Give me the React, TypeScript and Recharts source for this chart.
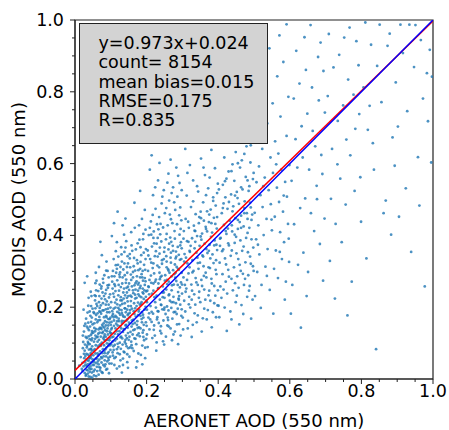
import React from "react";
import {
  ScatterChart,
  Scatter,
  XAxis,
  YAxis,
  ReferenceArea,
  Label,
} from "recharts";

// AERONET (x) vs MODIS (y) AOD at 550 nm
const bandA: [number, number][] = [
  [0.031,0.012],[0.042,0.027],[0.024,0.035],[0.038,0.051],[0.047,0.018],[0.029,0.064],[0.044,0.072],[0.035,0.041],[0.021,0.022],[0.049,0.055],
  [0.033,0.088],[0.041,0.097],[0.027,0.079],[0.046,0.108],[0.038,0.119],[0.023,0.103],[0.048,0.133],[0.036,0.141],[0.043,0.006],[0.028,0.047],
  [0.039,0.031],[0.045,0.083],[0.032,0.026],[0.026,0.058],[0.04,0.064],[0.049,0.039],[0.034,0.093],[0.044,0.122],[0.037,0.157],[0.047,0.171],
  [0.025,0.132],[0.041,0.188],[0.03,0.009],[0.046,0.047],[0.036,0.068],[0.022,0.086],[0.043,0.035],[0.048,0.091],[0.033,0.114],[0.039,0.082],
  [0.027,0.017],[0.042,0.146],[0.035,0.024],[0.049,0.152],[0.031,0.168],[0.045,0.203],[0.038,0.226],[0.044,0.061],[0.029,0.039],[0.047,0.127],
  [0.019,0.028],[0.016,0.061],[0.034,0.052],[0.041,0.111],[0.026,0.148],[0.048,0.004],[0.037,0.099],[0.043,0.176],[0.032,0.07],[0.046,0.028],
  [0.024,0.193],[0.039,0.136],[0.021,0.045],[0.035,0.185],[0.044,0.243],[0.03,0.117],[0.049,0.196],[0.027,0.268],[0.041,0.043],[0.036,0.015],
  [0.012,0.037],[0.045,0.067],[0.033,0.146],[0.047,0.079],[0.038,0.007],[0.028,0.096],[0.042,0.058],[0.046,0.231],[0.034,0.286],[0.025,0.07],
];

const bandB: [number, number][] = [
  [0.052,0.021],[0.061,0.034],[0.074,0.046],[0.058,0.057],[0.067,0.068],[0.083,0.052],[0.091,0.071],[0.055,0.083],[0.072,0.092],[0.088,0.088],
  [0.063,0.104],[0.079,0.113],[0.095,0.098],[0.057,0.121],[0.069,0.129],[0.084,0.136],[0.092,0.124],[0.054,0.142],[0.076,0.151],[0.089,0.158],
  [0.065,0.163],[0.081,0.172],[0.097,0.167],[0.059,0.178],[0.071,0.187],[0.086,0.194],[0.062,0.203],[0.078,0.211],[0.094,0.207],[0.056,0.219],
  [0.068,0.231],[0.085,0.238],[0.073,0.252],[0.091,0.261],[0.06,0.274],[0.082,0.289],[0.066,0.012],[0.087,0.026],[0.053,0.039],[0.077,0.017],
  [0.096,0.043],[0.064,0.049],[0.08,0.063],[0.093,0.059],[0.051,0.066],[0.07,0.077],[0.099,0.081],[0.058,0.094],[0.075,0.101],[0.09,0.109],
  [0.061,0.116],[0.083,0.124],[0.097,0.132],[0.066,0.138],[0.078,0.146],[0.054,0.155],[0.093,0.149],[0.07,0.164],[0.087,0.176],[0.063,0.183],
  [0.08,0.191],[0.096,0.186],[0.057,0.197],[0.074,0.224],[0.089,0.216],[0.065,0.245],[0.098,0.236],[0.079,0.268],[0.058,0.296],[0.094,0.283],
  [0.071,0.031],[0.085,0.041],[0.059,0.008],[0.095,0.016],[0.068,0.054],[0.082,0.078],[0.053,0.104],[0.076,0.128],[0.091,0.141],[0.062,0.158],
  [0.084,0.161],[0.099,0.171],[0.069,0.198],[0.086,0.207],[0.055,0.233],[0.077,0.241],[0.092,0.254],[0.067,0.312],[0.088,0.327],[0.075,0.345],
  [0.052,0.052],[0.063,0.071],[0.081,0.094],[0.097,0.114],[0.072,0.118],[0.056,0.133],[0.086,0.118],[0.064,0.089],[0.078,0.083],[0.093,0.092],
  [0.061,0.057],[0.073,0.061],[0.087,0.063],[0.098,0.062],[0.055,0.026],[0.07,0.024],[0.083,0.035],[0.09,0.049],[0.066,0.041],[0.079,0.039],
  [0.058,0.166],[0.068,0.173],[0.08,0.155],[0.09,0.186],[0.099,0.199],[0.06,0.209],[0.072,0.205],[0.084,0.222],[0.095,0.227],[0.069,0.263],
  [0.054,0.183],[0.074,0.139],[0.089,0.099],[0.065,0.126],[0.082,0.143],[0.096,0.157],[0.059,0.247],[0.078,0.279],[0.091,0.301],[0.071,0.382],
  [0.062,0.022],[0.076,0.072],[0.094,0.075],[0.085,0.107],[0.067,0.109],[0.053,0.079],[0.099,0.128],[0.073,0.182],[0.087,0.248],[0.057,0.267],
];

const bandC: [number, number][] = [
  [0.102,0.043],[0.114,0.061],[0.127,0.052],[0.138,0.074],[0.146,0.069],[0.108,0.081],[0.121,0.089],[0.133,0.096],[0.144,0.091],[0.105,0.104],
  [0.117,0.112],[0.129,0.118],[0.141,0.109],[0.111,0.126],[0.124,0.133],[0.136,0.139],[0.148,0.128],[0.103,0.142],[0.119,0.149],[0.131,0.156],
  [0.143,0.151],[0.109,0.163],[0.122,0.168],[0.135,0.174],[0.147,0.167],[0.106,0.181],[0.118,0.187],[0.13,0.192],[0.142,0.186],[0.113,0.199],
  [0.126,0.205],[0.139,0.211],[0.101,0.214],[0.149,0.203],[0.116,0.221],[0.128,0.228],[0.14,0.233],[0.107,0.238],[0.123,0.246],[0.137,0.252],
  [0.145,0.241],[0.112,0.259],[0.132,0.266],[0.104,0.271],[0.125,0.284],[0.143,0.277],[0.115,0.296],[0.135,0.305],[0.12,0.318],[0.148,0.322],
  [0.108,0.334],[0.13,0.347],[0.141,0.366],[0.117,0.381],[0.137,0.402],[0.124,0.035],[0.146,0.047],[0.11,0.058],[0.134,0.039],[0.119,0.072],
  [0.101,0.097],[0.128,0.084],[0.142,0.121],[0.113,0.141],[0.137,0.161],[0.104,0.176],[0.126,0.179],[0.149,0.181],[0.118,0.208],[0.131,0.219],
  [0.145,0.226],[0.109,0.229],[0.122,0.262],[0.139,0.289],[0.106,0.301],[0.127,0.312],[0.147,0.342],[0.114,0.356],[0.133,0.428],[0.103,0.398],
  [0.111,0.095],[0.125,0.101],[0.139,0.103],[0.107,0.118],[0.12,0.124],[0.134,0.131],[0.147,0.143],[0.115,0.154],[0.129,0.141],[0.144,0.163],
  [0.102,0.159],[0.116,0.172],[0.131,0.184],[0.14,0.197],[0.124,0.193],[0.108,0.196],[0.121,0.233],[0.135,0.241],[0.148,0.257],[0.113,0.245],
  [0.128,0.256],[0.142,0.268],[0.105,0.252],[0.118,0.275],[0.133,0.283],[0.146,0.296],[0.11,0.286],[0.126,0.297],[0.138,0.322],[0.121,0.341],
  [0.143,0.384],[0.136,0.076],[0.117,0.029],[0.149,0.086],[0.106,0.065],[0.132,0.113],[0.145,0.114],[0.123,0.161],[0.112,0.213],[0.101,0.127],
  [0.139,0.173],[0.127,0.219],[0.147,0.216],[0.114,0.317],[0.129,0.367],[0.109,0.434],[0.141,0.447],[0.119,0.466],[0.131,0.018],[0.148,0.031],
];

const bandD: [number, number][] = [
  [0.152,0.062],[0.164,0.078],[0.177,0.071],[0.188,0.093],[0.196,0.087],[0.157,0.104],[0.169,0.112],[0.181,0.119],[0.193,0.108],[0.155,0.131],
  [0.167,0.138],[0.179,0.144],[0.191,0.136],[0.161,0.153],[0.174,0.161],[0.186,0.167],[0.198,0.158],[0.153,0.172],[0.166,0.181],[0.178,0.188],
  [0.19,0.179],[0.159,0.196],[0.172,0.203],[0.184,0.209],[0.197,0.201],[0.156,0.217],[0.168,0.224],[0.18,0.231],[0.192,0.223],[0.163,0.239],
  [0.176,0.246],[0.189,0.252],[0.151,0.248],[0.199,0.244],[0.166,0.261],[0.178,0.268],[0.19,0.274],[0.157,0.276],[0.173,0.286],[0.186,0.292],
  [0.195,0.281],[0.162,0.298],[0.182,0.307],[0.154,0.311],[0.175,0.322],[0.193,0.318],[0.165,0.337],[0.185,0.345],[0.17,0.361],[0.198,0.362],
  [0.158,0.372],[0.18,0.388],[0.191,0.404],[0.167,0.421],[0.187,0.446],[0.174,0.049],[0.196,0.058],[0.16,0.086],[0.184,0.067],[0.171,0.097],
  [0.152,0.118],[0.178,0.127],[0.192,0.151],[0.163,0.165],[0.187,0.186],[0.154,0.192],[0.176,0.213],[0.199,0.218],[0.168,0.235],[0.181,0.253],
  [0.195,0.262],[0.159,0.258],[0.172,0.272],[0.189,0.301],[0.156,0.291],[0.177,0.303],[0.197,0.334],[0.164,0.314],[0.183,0.367],[0.153,0.348],
  [0.161,0.124],[0.175,0.142],[0.189,0.129],[0.158,0.146],[0.17,0.174],[0.183,0.176],[0.194,0.193],[0.165,0.211],[0.179,0.194],[0.191,0.238],
  [0.155,0.232],[0.169,0.249],[0.185,0.228],[0.197,0.272],[0.162,0.283],[0.176,0.263],[0.188,0.283],[0.151,0.266],[0.173,0.331],[0.192,0.352],
  [0.157,0.409],[0.179,0.428],[0.195,0.471],[0.166,0.491],[0.182,0.524],[0.171,0.032],[0.188,0.041],[0.199,0.112],[0.154,0.088],[0.167,0.156],
];

const bandE: [number, number][] = [
  [0.203,0.089],[0.216,0.114],[0.228,0.102],[0.241,0.127],[0.254,0.118],[0.267,0.141],[0.279,0.132],[0.291,0.153],[0.208,0.138],[0.221,0.149],
  [0.234,0.156],[0.247,0.163],[0.259,0.171],[0.272,0.168],[0.284,0.181],[0.297,0.176],[0.205,0.171],[0.218,0.182],[0.231,0.189],[0.244,0.194],
  [0.257,0.202],[0.269,0.198],[0.282,0.211],[0.294,0.207],[0.211,0.203],[0.224,0.214],[0.237,0.221],[0.25,0.226],[0.262,0.233],[0.275,0.229],
  [0.288,0.242],[0.299,0.238],[0.207,0.236],[0.219,0.246],[0.232,0.252],[0.245,0.258],[0.258,0.264],[0.271,0.261],[0.283,0.273],[0.296,0.269],
  [0.213,0.268],[0.226,0.277],[0.239,0.284],[0.252,0.289],[0.264,0.296],[0.277,0.292],[0.29,0.304],[0.204,0.301],[0.217,0.309],[0.23,0.316],
  [0.243,0.321],[0.256,0.327],[0.268,0.324],[0.281,0.336],[0.293,0.332],[0.21,0.334],[0.223,0.342],[0.236,0.349],[0.249,0.354],[0.261,0.361],
  [0.274,0.357],[0.287,0.368],[0.298,0.364],[0.215,0.369],[0.228,0.377],[0.241,0.383],[0.254,0.389],[0.266,0.394],[0.279,0.391],[0.292,0.402],
  [0.206,0.401],[0.22,0.411],[0.233,0.417],[0.246,0.422],[0.259,0.428],[0.272,0.434],[0.285,0.431],[0.297,0.442],[0.212,0.439],[0.235,0.451],
  [0.251,0.462],[0.265,0.458],[0.28,0.471],[0.294,0.478],[0.225,0.474],[0.242,0.489],[0.263,0.497],[0.286,0.508],[0.218,0.512],[0.248,0.526],
  [0.274,0.534],[0.292,0.546],[0.232,0.553],[0.261,0.572],[0.283,0.589],[0.209,0.583],[0.227,0.079],[0.249,0.096],[0.271,0.108],[0.295,0.121],
  [0.238,0.134],[0.262,0.146],[0.285,0.152],[0.214,0.159],[0.229,0.166],[0.253,0.181],[0.276,0.186],[0.298,0.194],[0.201,0.193],[0.24,0.207],
  [0.265,0.218],[0.289,0.224],[0.222,0.228],[0.248,0.241],[0.27,0.247],[0.293,0.255],[0.205,0.258],[0.233,0.266],[0.257,0.276],[0.28,0.282],
  [0.212,0.288],[0.236,0.296],[0.26,0.306],[0.284,0.312],[0.219,0.322],[0.243,0.331],[0.267,0.338],[0.29,0.346],[0.226,0.356],[0.25,0.366],
  [0.273,0.371],[0.296,0.381],[0.203,0.358],[0.231,0.393],[0.256,0.404],[0.278,0.412],[0.209,0.421],[0.239,0.432],[0.268,0.445],[0.291,0.456],
  [0.217,0.457],[0.255,0.476],[0.277,0.492],[0.244,0.508],[0.27,0.518],[0.298,0.526],[0.224,0.534],[0.258,0.547],[0.288,0.566],[0.236,0.602],
  [0.214,0.623],[0.267,0.611],[0.246,0.105],[0.288,0.097],[0.223,0.121],[0.275,0.124],[0.258,0.149],[0.201,0.124],[0.233,0.188],[0.287,0.196],
  [0.261,0.191],[0.245,0.228],[0.299,0.263],[0.274,0.303],[0.255,0.342],[0.282,0.355],[0.237,0.366],[0.219,0.393],[0.263,0.377],[0.295,0.418],
];

const bandF: [number, number][] = [
  [0.302,0.138],[0.316,0.162],[0.329,0.151],[0.343,0.177],[0.357,0.169],[0.371,0.192],[0.385,0.186],[0.398,0.205],[0.308,0.188],[0.322,0.199],
  [0.336,0.207],[0.35,0.214],[0.364,0.221],[0.378,0.218],[0.392,0.232],[0.305,0.218],[0.319,0.229],[0.333,0.236],[0.347,0.243],[0.361,0.249],
  [0.375,0.246],[0.389,0.259],[0.311,0.252],[0.325,0.263],[0.339,0.269],[0.353,0.276],[0.367,0.283],[0.381,0.279],[0.395,0.292],[0.303,0.283],
  [0.317,0.294],[0.331,0.301],[0.345,0.307],[0.359,0.314],[0.373,0.311],[0.387,0.323],[0.314,0.322],[0.328,0.331],[0.342,0.338],[0.356,0.344],
  [0.37,0.351],[0.384,0.347],[0.397,0.359],[0.306,0.348],[0.32,0.357],[0.334,0.364],[0.348,0.371],[0.362,0.377],[0.376,0.374],[0.39,0.386],
  [0.313,0.384],[0.327,0.392],[0.341,0.398],[0.355,0.405],[0.369,0.411],[0.383,0.408],[0.396,0.419],[0.304,0.412],[0.318,0.421],[0.332,0.427],
  [0.346,0.434],[0.36,0.441],[0.374,0.437],[0.388,0.449],[0.309,0.446],[0.337,0.459],[0.351,0.466],[0.379,0.472],[0.393,0.483],[0.324,0.479],
  [0.358,0.492],[0.386,0.506],[0.312,0.511],[0.344,0.522],[0.372,0.531],[0.399,0.544],[0.33,0.553],[0.363,0.568],[0.391,0.587],[0.321,0.596],
  [0.352,0.614],[0.381,0.638],[0.308,0.641],[0.326,0.117],[0.354,0.132],[0.382,0.144],[0.315,0.141],[0.34,0.158],[0.368,0.166],[0.394,0.172],
  [0.301,0.171],[0.334,0.183],[0.361,0.196],[0.389,0.211],[0.318,0.208],[0.346,0.226],[0.373,0.233],[0.399,0.247],[0.327,0.246],[0.355,0.259],
  [0.382,0.266],[0.307,0.262],[0.337,0.281],[0.365,0.296],[0.393,0.304],[0.32,0.311],[0.349,0.324],[0.378,0.336],[0.31,0.338],[0.339,0.352],
  [0.367,0.362],[0.395,0.374],[0.323,0.371],[0.353,0.388],[0.38,0.396],[0.303,0.391],[0.336,0.412],[0.365,0.424],[0.392,0.432],[0.316,0.438],
  [0.347,0.451],[0.375,0.458],[0.33,0.495],[0.366,0.512],[0.397,0.518],[0.341,0.537],[0.376,0.561],[0.314,0.574],[0.359,0.589],[0.387,0.671],
];

const bandG: [number, number][] = [
  [0.403,0.172],[0.418,0.199],[0.434,0.188],[0.449,0.214],[0.465,0.206],[0.481,0.229],[0.496,0.221],[0.409,0.226],[0.425,0.238],[0.441,0.247],
  [0.457,0.254],[0.472,0.262],[0.488,0.259],[0.406,0.258],[0.421,0.271],[0.437,0.279],[0.453,0.286],[0.469,0.293],[0.484,0.289],[0.499,0.301],
  [0.412,0.292],[0.428,0.304],[0.444,0.311],[0.46,0.318],[0.476,0.325],[0.491,0.321],[0.404,0.324],[0.419,0.336],[0.435,0.343],[0.451,0.35],
  [0.467,0.357],[0.483,0.353],[0.498,0.366],[0.414,0.361],[0.43,0.372],[0.446,0.379],[0.462,0.386],[0.478,0.393],[0.493,0.389],[0.407,0.393],
  [0.423,0.404],[0.439,0.411],[0.455,0.418],[0.471,0.425],[0.487,0.421],[0.416,0.429],[0.432,0.441],[0.448,0.448],[0.464,0.455],[0.48,0.462],
  [0.495,0.458],[0.41,0.462],[0.426,0.474],[0.442,0.481],[0.458,0.488],[0.474,0.495],[0.489,0.491],[0.42,0.506],[0.436,0.514],[0.452,0.521],
  [0.468,0.528],[0.485,0.524],[0.413,0.541],[0.445,0.552],[0.477,0.563],[0.497,0.557],[0.429,0.578],[0.461,0.589],[0.49,0.603],[0.417,0.617],
  [0.449,0.632],[0.479,0.648],[0.433,0.664],[0.466,0.681],[0.411,0.703],[0.494,0.722],[0.457,0.741],[0.424,0.134],[0.459,0.152],[0.492,0.168],
  [0.437,0.166],[0.47,0.181],[0.401,0.204],[0.452,0.232],[0.486,0.246],[0.415,0.249],[0.447,0.267],[0.475,0.279],[0.43,0.285],[0.463,0.301],
  [0.497,0.314],[0.422,0.319],[0.456,0.334],[0.489,0.341],[0.438,0.358],[0.471,0.369],[0.405,0.371],[0.45,0.396],[0.482,0.407],[0.427,0.419],
  [0.46,0.437],[0.493,0.443],[0.44,0.467],[0.473,0.476],[0.415,0.489],[0.454,0.504],[0.487,0.537],[0.423,0.558],[0.466,0.609],[0.44,0.598],
];

const bandH: [number, number][] = [
  [0.503,0.231],[0.521,0.262],[0.544,0.248],[0.567,0.281],[0.589,0.271],[0.509,0.298],[0.532,0.313],[0.556,0.307],[0.578,0.334],[0.598,0.326],
  [0.515,0.347],[0.538,0.362],[0.561,0.358],[0.584,0.381],[0.506,0.389],[0.527,0.401],[0.55,0.414],[0.573,0.409],[0.595,0.432],[0.512,0.428],
  [0.535,0.446],[0.558,0.452],[0.581,0.466],[0.502,0.463],[0.524,0.479],[0.547,0.487],[0.57,0.493],[0.592,0.508],[0.518,0.512],[0.541,0.526],
  [0.564,0.533],[0.587,0.549],[0.507,0.548],[0.53,0.561],[0.553,0.574],[0.576,0.583],[0.599,0.596],[0.514,0.592],[0.546,0.617],[0.568,0.628],
  [0.523,0.641],[0.559,0.662],[0.591,0.677],[0.508,0.688],[0.537,0.712],[0.574,0.731],[0.552,0.768],[0.596,0.786],[0.528,0.806],[0.565,0.843],
  [0.582,0.883],[0.543,0.921],[0.571,0.957],[0.591,0.988],[0.519,0.198],[0.554,0.182],[0.586,0.221],[0.536,0.287],[0.572,0.354],[0.597,0.391],
  [0.511,0.374],[0.549,0.444],[0.583,0.511],[0.526,0.537],[0.562,0.598],
];

const bandI: [number, number][] = [
  [0.607,0.262],[0.623,0.318],[0.638,0.352],[0.651,0.298],[0.668,0.412],[0.684,0.376],[0.697,0.447],[0.612,0.431],[0.629,0.476],[0.643,0.503],
  [0.659,0.462],[0.675,0.538],[0.691,0.571],[0.605,0.552],[0.621,0.589],[0.636,0.617],[0.654,0.583],[0.671,0.648],[0.688,0.624],[0.616,0.668],
  [0.633,0.704],[0.649,0.739],[0.664,0.691],[0.681,0.776],[0.698,0.742],[0.611,0.781],[0.627,0.823],[0.645,0.861],[0.662,0.812],[0.679,0.897],
  [0.694,0.858],[0.618,0.914],[0.641,0.952],[0.658,0.986],[0.686,0.937],[0.603,0.182],[0.647,0.231],[0.693,0.274],[0.631,0.143],[0.676,0.501],
  [0.712,0.329],[0.728,0.432],[0.741,0.558],[0.756,0.486],[0.769,0.623],[0.783,0.697],[0.797,0.562],[0.718,0.641],[0.734,0.719],[0.749,0.762],
  [0.763,0.834],[0.778,0.792],[0.792,0.874],[0.706,0.788],[0.722,0.868],[0.738,0.903],[0.752,0.951],[0.767,0.979],[0.786,0.941],[0.709,0.961],
  [0.745,0.381],[0.773,0.271],[0.799,0.438],[0.726,0.224],[0.758,0.667],[0.781,0.524],[0.715,0.502],[0.733,0.598],[0.794,0.738],[0.761,0.177],
];

const bandJ: [number, number][] = [
  [0.806,0.812],[0.818,0.694],[0.827,0.931],[0.835,0.583],[0.844,0.872],[0.856,0.771],[0.868,0.497],[0.879,0.962],[0.887,0.673],[0.896,0.826],
  [0.905,0.452],[0.916,0.908],[0.928,0.746],[0.939,0.354],[0.947,0.869],[0.958,0.618],[0.966,0.944],[0.977,0.258],[0.986,0.718],[0.995,0.603],
  [0.814,0.336],[0.841,0.083],[0.862,0.462],[0.883,0.402],[0.902,0.703],[0.924,0.531],[0.951,0.986],[0.972,0.781],[0.832,0.657],[0.873,0.928],
  [0.997,0.842],[0.991,0.917],[0.811,0.993],[0.851,0.987],[0.893,0.594],[0.934,0.987],[0.962,0.483],[0.983,0.852],[0.823,0.761],[0.909,0.987],
];

// extra points where the cloud is densest (x < 0.5)
const coreFill: [number, number][] = [
  [0.044,0.084],[0.057,0.071],[0.063,0.118],[0.071,0.097],[0.078,0.131],[0.086,0.149],[0.093,0.167],[0.101,0.138],[0.108,0.172],[0.116,0.133],
  [0.123,0.184],[0.131,0.162],[0.139,0.197],[0.147,0.178],[0.156,0.203],[0.164,0.189],[0.172,0.226],[0.181,0.207],[0.189,0.241],[0.198,0.229],
  [0.206,0.256],[0.215,0.238],[0.224,0.271],[0.233,0.253],[0.242,0.287],[0.251,0.274],[0.261,0.302],[0.27,0.286],[0.279,0.319],[0.288,0.307],
  [0.297,0.334],[0.048,0.113],[0.054,0.047],[0.066,0.093],[0.069,0.142],[0.075,0.058],[0.082,0.109],[0.089,0.133],[0.094,0.053],[0.103,0.116],
  [0.107,0.091],[0.113,0.176],[0.119,0.098],[0.126,0.147],[0.132,0.209],[0.138,0.138],[0.144,0.254],[0.151,0.157],[0.158,0.229],[0.163,0.136],
  [0.169,0.267],[0.176,0.178],[0.182,0.283],[0.187,0.158],[0.194,0.247],[0.201,0.214],[0.208,0.276],[0.214,0.187],[0.221,0.294],[0.228,0.232],
  [0.235,0.311],[0.241,0.206],[0.248,0.334],[0.255,0.249],[0.262,0.271],[0.268,0.352],[0.275,0.214],[0.281,0.296],[0.287,0.262],[0.294,0.372],
  [0.036,0.103],[0.039,0.058],[0.051,0.129],[0.056,0.112],[0.059,0.139],[0.064,0.064],[0.068,0.188],[0.072,0.142],[0.077,0.191],[0.081,0.118],
  [0.085,0.083],[0.088,0.172],[0.092,0.196],[0.096,0.108],[0.1,0.151],[0.104,0.189],[0.109,0.148],[0.112,0.107],[0.118,0.161],[0.121,0.198],
  [0.127,0.116],[0.133,0.178],[0.136,0.224],[0.141,0.149],[0.146,0.193],[0.149,0.231],[0.153,0.184],[0.159,0.163],[0.162,0.247],[0.168,0.197],
  [0.173,0.151],[0.177,0.236],[0.183,0.259],[0.186,0.214],[0.191,0.171],[0.196,0.304],[0.202,0.246],[0.207,0.183],[0.213,0.324],[0.219,0.266],
  [0.226,0.199],[0.231,0.341],[0.237,0.278],[0.244,0.241],[0.249,0.193],[0.256,0.311],[0.263,0.236],[0.269,0.382],[0.276,0.263],[0.283,0.341],
  [0.291,0.231],[0.298,0.296],[0.305,0.327],[0.313,0.276],[0.321,0.354],[0.328,0.297],[0.336,0.382],[0.343,0.323],[0.351,0.397],[0.358,0.341],
  [0.366,0.418],[0.374,0.357],[0.381,0.434],[0.389,0.372],[0.397,0.451],[0.405,0.391],[0.413,0.476],[0.421,0.412],[0.43,0.493],[0.438,0.428],
  [0.447,0.511],[0.455,0.443],[0.464,0.534],[0.473,0.462],[0.482,0.553],[0.491,0.478],[0.499,0.574],[0.309,0.243],[0.317,0.382],[0.326,0.221],
  [0.334,0.413],[0.343,0.262],[0.352,0.448],[0.36,0.287],[0.369,0.467],[0.377,0.309],[0.386,0.496],[0.394,0.331],[0.402,0.528],[0.411,0.356],
  [0.419,0.551],[0.428,0.378],[0.437,0.579],[0.446,0.402],[0.455,0.601],[0.464,0.421],[0.473,0.627],[0.482,0.446],[0.491,0.651],[0.033,0.036],
  [0.041,0.02],[0.053,0.01],[0.06,0.044],[0.068,0.033],[0.075,0.019],[0.083,0.072],[0.09,0.028],[0.098,0.094],[0.105,0.074],[0.11,0.039],
  [0.117,0.083],[0.125,0.069],[0.134,0.057],[0.142,0.098],[0.15,0.109],[0.158,0.094],[0.166,0.113],[0.174,0.122],[0.183,0.141],[0.191,0.117],
  [0.2,0.148],[0.21,0.166],[0.22,0.137],[0.23,0.172],[0.24,0.147],[0.25,0.199],[0.26,0.164],[0.27,0.214],[0.28,0.187],[0.29,0.221],
  [0.022,0.121],[0.029,0.154],[0.037,0.204],[0.045,0.159],[0.052,0.186],[0.058,0.231],[0.067,0.214],[0.074,0.258],[0.081,0.231],[0.087,0.302],
  [0.095,0.262],[0.103,0.286],[0.11,0.264],[0.117,0.307],[0.124,0.291],[0.131,0.327],[0.138,0.354],[0.145,0.312],[0.153,0.336],[0.16,0.357],
  [0.168,0.302],[0.175,0.378],[0.183,0.326],[0.19,0.389],[0.197,0.416],[0.205,0.344],[0.213,0.402],[0.221,0.378],[0.229,0.431],[0.238,0.403],
];

// regression fit (y=0.973x+0.024) and 1:1 line endpoints
const fitLine = [{ x: 0, y: 0.024 }, { x: 1, y: 0.997 }];
const oneToOne = [{ x: 0, y: 0 }, { x: 1, y: 1 }];

const axisTicks = [
  0, 0.05, 0.1, 0.15, 0.2, 0.25, 0.3, 0.35, 0.4, 0.45, 0.5,
  0.55, 0.6, 0.65, 0.7, 0.75, 0.8, 0.85, 0.9, 0.95, 1.0,
];

const statLines = [
  "y=0.973x+0.024",
  "count= 8154",
  "mean bias=0.015",
  "RMSE=0.175",
  "R=0.835",
];

const points = [
  ...bandA, ...bandB, ...bandC, ...bandD, ...bandE,
  ...bandF, ...bandG, ...bandH, ...bandI, ...bandJ, ...coreFill,
].map(([x, y]) => ({ x, y }));

const FONT = "DejaVu Sans, sans-serif";
const INK = "#222";
const isMajor = (v: number) => Math.round(v * 100) % 20 === 0;

function YTick({ x, y, payload }: any) {
  const v = payload.value as number;
  const major = isMajor(v);
  return (
    <g>
      <line x1={x} x2={x - (major ? 5 : 3)} y1={y} y2={y} stroke={INK} />
      {major && (
        <text x={x - 11} y={y} textAnchor="end" dominantBaseline="central"
          fontSize={17.5} fontFamily={FONT} fill="#000">
          {v.toFixed(1)}
        </text>
      )}
    </g>
  );
}

function XTick({ x, y, payload }: any) {
  const v = payload.value as number;
  const major = isMajor(v);
  return (
    <g>
      <line x1={x} x2={x} y1={y} y2={y + (major ? 5 : 3)} stroke={INK} />
      {major && (
        <text x={x} y={y + 12} textAnchor="middle" dominantBaseline="central"
          fontSize={17.5} fontFamily={FONT} fill="#000">
          {v.toFixed(1)}
        </text>
      )}
    </g>
  );
}

const dot = (p: any) => (
  <circle cx={p.cx} cy={p.cy} r={1.4} fill="#1f77b4" fillOpacity={0.8} />
);

export default function App() {
  return (
    <div style={{ position: "absolute", left: 0, top: 0, width: 449, height: 430, background: "#fff" }}>
      <ScatterChart width={449} height={430} margin={{ top: 20, right: 16, left: 0, bottom: 0 }}>
        <XAxis type="number" dataKey="x" domain={[0, 1]} ticks={axisTicks} interval={0}
          tick={<XTick />} tickSize={0} tickMargin={0} height={51} stroke={INK} allowDataOverflow>
          <Label content={({ viewBox }: any) => (
            <text x={viewBox.x + viewBox.width / 2} y={viewBox.y + 41} textAnchor="middle"
              dominantBaseline="central" fontSize={18} fontFamily={FONT} fill="#000">
              AERONET AOD (550 nm)
            </text>
          )} />
        </XAxis>
        <YAxis type="number" dataKey="y" domain={[0, 1]} ticks={axisTicks} interval={0}
          tick={<YTick />} tickSize={0} tickMargin={0} width={75} stroke={INK} allowDataOverflow>
          <Label content={({ viewBox }: any) => {
            const cx = viewBox.x + 18;
            const cy = viewBox.y + viewBox.height / 2;
            return (
              <text x={cx} y={cy} transform={`rotate(-90 ${cx} ${cy})`} textAnchor="middle"
                dominantBaseline="central" fontSize={18} fontFamily={FONT} fill="#000">
                MODIS AOD (550 nm)
              </text>
            );
          }} />
        </YAxis>
        <Scatter data={points} shape={dot} isAnimationActive={false} />
        <Scatter data={fitLine} line={{ stroke: "#ff0000", strokeWidth: 1.5 }} shape={() => null}
          isAnimationActive={false} />
        <Scatter data={oneToOne} line={{ stroke: "#0000ff", strokeWidth: 1.5 }} shape={() => null}
          isAnimationActive={false} />
        <ReferenceArea x1={0} x2={1} y1={0} y2={1} fill="none" stroke={INK} strokeWidth={1.2} />
      </ScatterChart>
      <div style={{
        position: "absolute", left: 79, top: 23, width: 189, height: 121, boxSizing: "border-box",
        border: `1.5px solid ${INK}`, background: "#d3d3d3", padding: "10px 0 0 18.5px",
        fontFamily: FONT, fontSize: 17.5, lineHeight: "19.3px", color: "#000",
      }}>
        {statLines.map((s) => <div key={s}>{s}</div>)}
      </div>
    </div>
  );
}
